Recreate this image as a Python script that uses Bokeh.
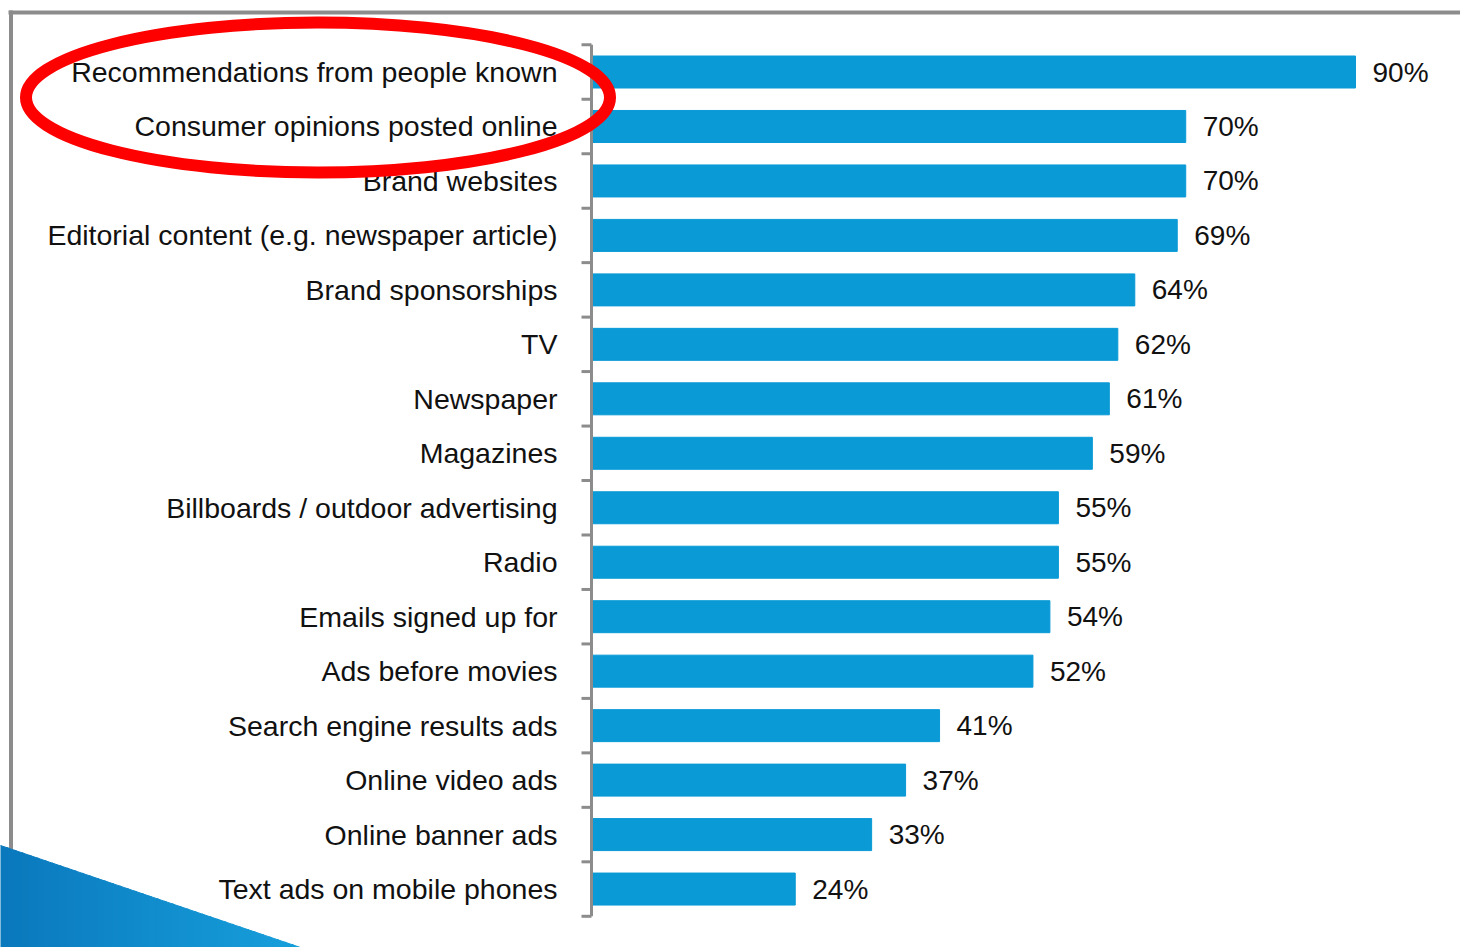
from bokeh.plotting import figure
from bokeh.models import Range1d, ColumnDataSource
from bokeh.core.properties import value
from bokeh.embed import file_html
from bokeh.resources import INLINE

categories = [
    "Recommendations from people known",
    "Consumer opinions posted online",
    "Brand websites",
    "Editorial content (e.g. newspaper article)",
    "Brand sponsorships",
    "TV",
    "Newspaper",
    "Magazines",
    "Billboards / outdoor advertising",
    "Radio",
    "Emails signed up for",
    "Ads before movies",
    "Search engine results ads",
    "Online video ads",
    "Online banner ads",
    "Text ads on mobile phones",
]
values = [90, 70, 70, 69, 64, 62, 61, 59, 55, 55, 54, 52, 41, 37, 33, 24]
labels = [f"{v}%" for v in values]

W, H = 1460, 947
X0 = 591.0          # pixel of 0 %
PX = 8.489          # pixels per percent
Y0 = 71.5           # pixel of first category centre
SP = 54.47          # pixels per category


def px2x(px):
    return (px - X0) / PX


def py2y(py):
    return (py - Y0) / SP


p = figure(width=W, height=H, output_backend="svg", toolbar_location=None,
           x_range=Range1d(px2x(0), px2x(W)), y_range=Range1d(py2y(H), py2y(0)),
           min_border=0, min_border_left=0, min_border_right=0,
           min_border_top=0, min_border_bottom=0)
p.axis.visible = False
p.grid.visible = False
p.outline_line_color = None
p.background_fill_color = "white"
p.border_fill_color = "white"

idx = list(range(len(categories)))
src = ColumnDataSource(dict(y=idx, v=values, cat=categories, lab=labels,
                            lx=[v + 17 / PX for v in values]))

# gray frame
p.line([px2x(8), px2x(W + 5)], [py2y(12), py2y(12)], line_color="#8C8C8C", line_width=4)
p.line([px2x(10.5), px2x(10.5)], [py2y(10), py2y(900)], line_color="#8C8C8C", line_width=4)

# bars
p.hbar(y="y", left=0, right="v", height=32 / SP, source=src,
       fill_color="#0A9AD6", line_color="#0A9AD6", line_width=1)

# axis line and ticks at category boundaries
n = len(categories)
p.line([0, 0], [-0.5, n - 0.5], line_color="#8C8C8C", line_width=3)
bounds = [i - 0.5 for i in range(n + 1)]
p.segment(x0=[px2x(581)] * len(bounds), x1=[0] * len(bounds), y0=bounds, y1=bounds,
          line_color="#8C8C8C", line_width=3)

# category labels
p.text(x=px2x(557), y="y", text="cat", source=src, text_align="right",
       text_baseline="middle", text_font=value("Liberation Sans"),
       text_font_size="28.5px", text_color="#111111")

# value labels
p.text(x="lx", y="y", text="lab", source=src, text_align="left",
       text_baseline="middle", text_font=value("Liberation Sans"),
       text_font_size="28px", text_color="#111111")

# red ellipse highlight
p.ellipse(x=px2x(317.5), y=py2y(97), width=584, height=150,
          width_units="screen", height_units="screen",
          fill_alpha=0, line_color="#FF0000", line_width=12)

# blue decorative triangle with horizontal gradient
N = 40
xs, ys, cols = [], [], []
c0 = (10, 120, 188)
c1 = (24, 160, 220)
x_end = 300.0
for k in range(N):
    xa = x_end * k / N - 1
    xb = x_end * (k + 1) / N + 1
    ya = 845 + (102 / 300) * xa
    yb = 845 + (102 / 300) * xb
    xs.append([px2x(xa), px2x(xb), px2x(xb), px2x(xa)])
    ys.append([py2y(ya), py2y(yb), py2y(H + 5), py2y(H + 5)])
    t = (k + 0.5) / N
    r, g, b = (int(c0[j] + (c1[j] - c0[j]) * t) for j in range(3))
    cols.append(f"#{r:02x}{g:02x}{b:02x}")
p.patches(xs, ys, fill_color=cols, line_color=cols, line_width=1)

open("out.html", "w").write(file_html(p, INLINE))
